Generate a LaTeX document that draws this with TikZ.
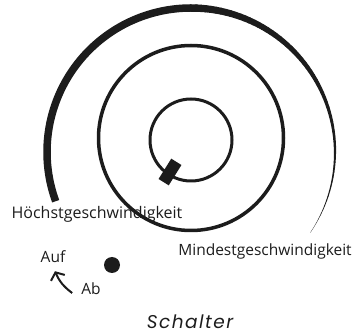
\documentclass[tikz,border=0pt]{standalone}
\usepackage{fontspec}
\setmainfont{Open Sans}
\newfontfamily\titlefont[LetterSpace=8]{Poppins}
\usetikzlibrary{positioning,arrows.meta}
\definecolor{ink}{RGB}{28,28,28}
\tikzset{
  lbl/.style={font=\fontsize{15.5}{18}\selectfont,text=ink,inner sep=0pt},
  ring/.style={draw=ink,line width=3.5pt},
  knob/.style={fill=ink,rectangle,minimum width=24pt,minimum height=12pt,inner sep=0pt},
  dot/.style={fill=ink,circle,minimum size=16pt,inner sep=0pt},
  arr/.style={-{Straight Barb[length=6pt,width=15pt]},draw=ink,line width=2pt},
}
\begin{document}
\begin{tikzpicture}[x=1pt,y=1pt]
  \useasboundingbox (0,0) rectangle (364,-336);
  % centres
  \coordinate (oc) at (191,-152);
  \coordinate (mc) at (191,-138);
  \coordinate (ic) at (191,-140);
  % outer speed arc, thick part then taper
  \draw[draw=ink,line width=7.5pt] ([shift={(200:144)}]oc) arc[start angle=200,end angle=90,radius=144];
  \foreach \a in {90,88,...,-32}{
    \pgfmathsetmacro\w{max(0.2,7.5*(\a+34)/124)}
    \draw[draw=ink,line width=\w pt,line cap=round] ([shift={(\a:144)}]oc) arc[start angle=\a,end angle=\a-2,radius=144];
  }
  % rings
  \draw[ring] (mc) circle[radius=92.5];
  \draw[ring,line width=3pt] (ic) circle[radius=41];
  \node[knob,rotate=58] (knob) at (170,-172) {};
  % labels
  \node[lbl,font=\fontsize{16}{18}\selectfont] (max) at (97,-214) {Höchstgeschwindigkeit};
  \node[lbl] (min) at (265,-251) {Mindestgeschwindigkeit};
  \node[lbl] (auf) at (53,-257) {Auf};
  \node[lbl] (ab) at (91,-289) {Ab};
  \node[dot] (sw) at (112,-265) {};
  \node[lbl,font=\fontsize{18.5}{20}\titlefont\itshape] (title) at (190,-322) {Schalter};
  \draw[arr] ([xshift=-9pt,yshift=-4pt]ab.west) to[bend left=15] ([xshift=2pt,yshift=-8pt]auf.south);
\end{tikzpicture}
\end{document}
